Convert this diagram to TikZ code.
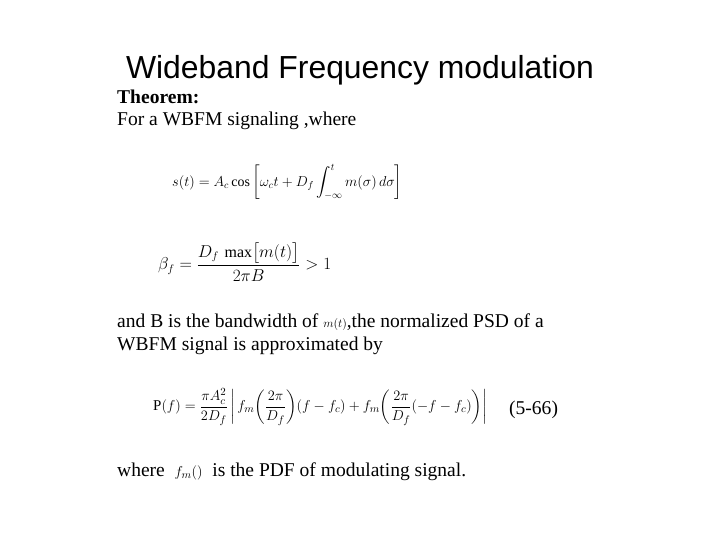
\documentclass[tikz,border=0pt]{standalone}
\usepackage{amsmath}
\usepackage{fontspec}
\setmainfont{Liberation Serif}
\newfontfamily\titlefont{Liberation Sans}
\begin{document}
\begin{tikzpicture}[x=1bp,y=-1bp,
  body/.style={anchor=base west,inner sep=0pt,font=\fontsize{19.6}{22}\selectfont},
  eq/.style={anchor=west,inner sep=0pt,font=\fontsize{14}{17}\selectfont}]
\useasboundingbox[fill=white] (0,0) rectangle (720,540);
\node[anchor=base,inner sep=0pt,font=\titlefont\fontsize{32}{36}\selectfont] (title) at (360,79) {Wideband Frequency modulation};
\node[body,font=\bfseries\fontsize{19.6}{22}\selectfont] (thm) at (117,104) {Theorem:};
\node[body] (for) at (117,126) {For a WBFM signaling ,where};
\node[eq] (s) at (172,182) {$s(t)=A_c\cos\left[\omega_c t+D_f\displaystyle\int_{-\infty}^{t} m(\sigma)\,d\sigma\right]$};
\node[eq,font=\fontsize{16}{19}\selectfont] (beta) at (158,262) {$\beta_f=\dfrac{D_f\,\max\bigl[m(t)\bigr]}{2\pi B}>1$};
\node[body] (and) at (117,327) {and B is the bandwidth of {\fontsize{12}{14}\selectfont$m(t)$},the normalized PSD of a};
\node[body] (wb) at (117,350) {WBFM signal is approximated by};
\node[eq,font=\fontsize{15}{18}\selectfont] (P) at (153,407) {$\mathrm{P}(f)=\dfrac{\pi A_c^2}{2D_f}\left|\,f_m\!\left(\dfrac{2\pi}{D_f}\right)\!(f-f_c)+f_m\!\left(\dfrac{2\pi}{D_f}(-f-f_c)\right)\right|$};
\node[body] (num) at (509,414) {(5-66)};
\node[body] (wh) at (117,476) {where \ {\fontsize{15}{17}\selectfont$f_m()$} \ is the PDF of modulating signal.};
\end{tikzpicture}
\end{document}
